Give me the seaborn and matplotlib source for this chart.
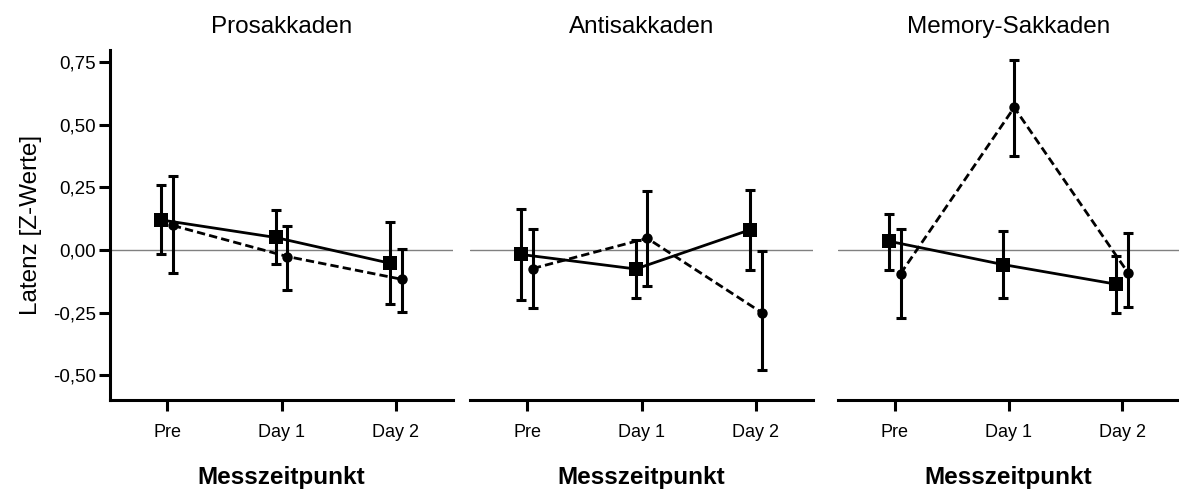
import numpy as np
import pandas as pd
import matplotlib
matplotlib.use("Agg")
import matplotlib.pyplot as plt
import seaborn as sns

# Data
timepoints = ["Pre", "Day 1", "Day 2"]
panels = ["Prosakkaden", "Antisakkaden", "Memory-Sakkaden"]

# solid line / square markers
sq_mean = [[0.12, 0.05, -0.053], [-0.018, -0.076, 0.081], [0.035, -0.058, -0.137]]
sq_low = [[-0.017, -0.056, -0.214], [-0.199, -0.192, -0.078], [-0.08, -0.19, -0.25]]
sq_high = [[0.26, 0.159, 0.11], [0.162, 0.038, 0.24], [0.145, 0.075, -0.024]]

# dashed line / circle markers
ci_mean = [[0.098, -0.026, -0.117], [-0.074, 0.047, -0.25], [-0.095, 0.57, -0.09]]
ci_low = [[-0.09, -0.159, -0.247], [-0.23, -0.143, -0.48], [-0.27, 0.375, -0.226]]
ci_high = [[0.295, 0.096, 0.003], [0.082, 0.234, -0.003], [0.085, 0.76, 0.067]]

yticks = [-0.5, -0.25, 0.0, 0.25, 0.5, 0.75]
ytick_labels = ["-0,50", "-0,25", "0,00", "0,25", "0,50", "0,75"]

sns.set_style("ticks")
plt.rcParams["font.family"] = ["Liberation Sans", "DejaVu Sans"]
plt.rcParams["text.color"] = "black"
plt.rcParams["axes.labelcolor"] = "black"
plt.rcParams["xtick.color"] = "black"
plt.rcParams["ytick.color"] = "black"

fig = plt.figure(figsize=(11.79, 4.90), dpi=100)
W, H = 1179, 490
boxes = [(110, 343), (470, 343), (838, 341)]
base = np.arange(len(timepoints))
dodge = 0.05

for i, (left, width) in enumerate(boxes):
    ax = fig.add_axes([left / W, 1 - 400 / H, width / W, 350 / H])
    ax.axhline(0, color="#808080", lw=1.0, zorder=0)

    series = [
        (sq_mean[i], sq_low[i], sq_high[i], -dodge, "s", "-", 9.5),
        (ci_mean[i], ci_low[i], ci_high[i], dodge, "o", "--", 7.5),
    ]
    for mean, low, high, off, mk, ls, ms in series:
        df = pd.DataFrame({"x": base + off, "y": mean})
        mean = np.array(mean)
        ax.errorbar(df["x"], df["y"],
                    yerr=[mean - np.array(low), np.array(high) - mean],
                    fmt="none", ecolor="black", elinewidth=2.2,
                    capsize=3.8, capthick=2.2, zorder=2)
        sns.lineplot(data=df, x="x", y="y", ax=ax, color="black",
                     marker=mk, markersize=ms, markeredgewidth=0,
                     linestyle=ls, linewidth=2.0, zorder=3)
        if ls == "--":
            ax.lines[-1].set_dashes((3, 1.5))

    ax.set_xlim(-0.5, 2.5)
    ax.set_ylim(-0.60, 0.80)
    ax.set_xticks(base)
    ax.set_xticklabels(timepoints, fontsize=13)
    ax.tick_params(axis="x", length=8, width=2.2, pad=9)
    ax.set_xlabel("Messzeitpunkt", fontsize=17.5, fontweight="bold", labelpad=18)
    ax.set_title(panels[i], fontsize=17.5, pad=12)

    sns.despine(ax=ax, left=(i > 0))
    for s in ax.spines.values():
        s.set_linewidth(2.2)
        s.set_color("black")

    if i == 0:
        ax.set_yticks(yticks)
        ax.set_yticklabels(ytick_labels, fontsize=13.5)
        ax.tick_params(axis="y", length=8, width=2.2, pad=2)
        ax.set_ylabel("Latenz [Z-Werte]", fontsize=17.5, labelpad=8)
    else:
        ax.set_yticks([])
        ax.set_ylabel("")

fig.savefig("out.png", dpi=100)
